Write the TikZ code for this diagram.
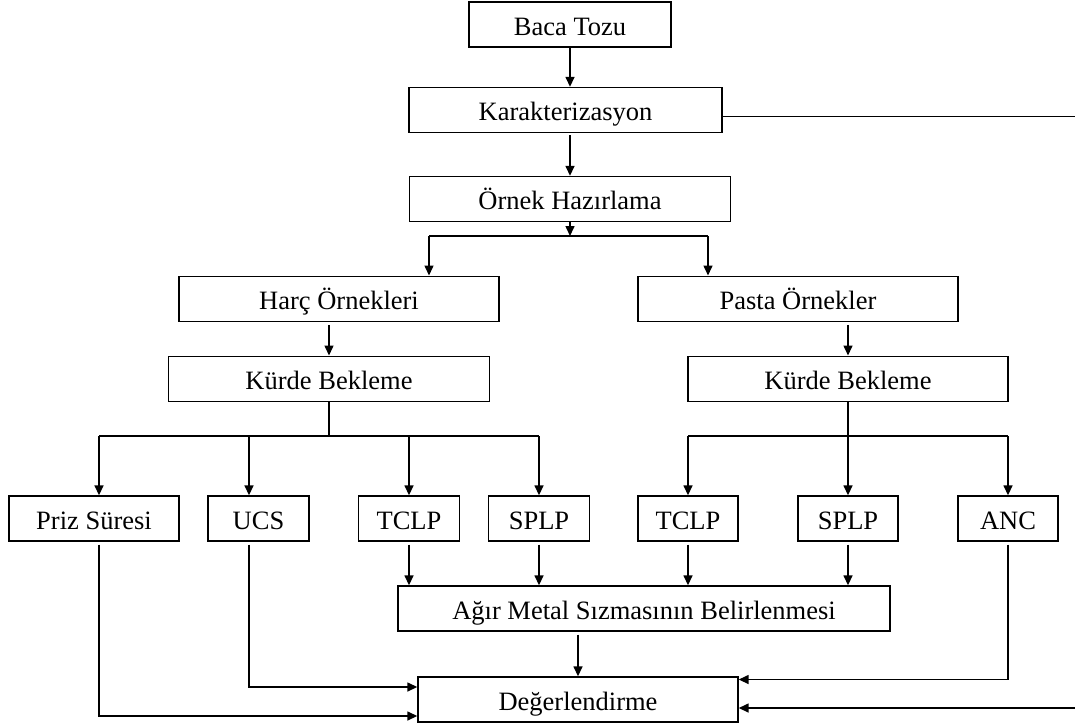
\documentclass[tikz,border=0pt]{standalone}
\usepackage{fontspec}
\setmainfont{Liberation Serif}
\usetikzlibrary{arrows.meta,calc}
\begin{document}
\begin{tikzpicture}[x=1pt,y=-1pt,
  box/.style={draw, line width=1.4pt, minimum height=45pt, inner sep=0pt,
              text height=22pt, text depth=0.5pt,
              anchor=center, font=\fontsize{26.5}{30}\selectfont},
  link/.style={line width=1.5pt},
  arr/.style={link, -{Triangle[length=10pt,width=9pt]}}]
\useasboundingbox (0,0) rectangle (1075,724);

% process boxes
\node[box, minimum width=202pt] (baca)   at (570,24.5)  {Baca Tozu};
\node[box, minimum width=313pt] (karak)  at (565.5,110) {Karakterizasyon};
\node[box, minimum width=321pt] (ornek)  at (570,199)   {Örnek Hazırlama};
\node[box, minimum width=320pt] (harc)   at (339,298.7) {Harç Örnekleri};
\node[box, minimum width=320pt] (pasta)  at (798,298.7) {Pasta Örnekler};
\node[box, minimum width=321pt] (kurdeL) at (329,378.7) {Kürde Bekleme};
\node[box, minimum width=320pt] (kurdeR) at (848,378.7) {Kürde Bekleme};
\node[box, minimum width=170pt] (priz)   at (94,518.5)  {Priz Süresi};
\node[box, minimum width=101pt] (ucs)    at (258.5,518.5) {UCS};
\node[box, minimum width=101pt] (tclpA)  at (409,518.5) {TCLP};
\node[box, minimum width=101pt] (splpA)  at (539,518.5) {SPLP};
\node[box, minimum width=100pt] (tclpB)  at (688,518.5) {TCLP};
\node[box, minimum width=100pt] (splpB)  at (848,518.5) {SPLP};
\node[box, minimum width=100pt] (anc)    at (1008,518.5) {ANC};
\node[box, minimum width=492pt] (agir)   at (644,608.5) {Ağır Metal Sızmasının Belirlenmesi};
\node[box, minimum width=320pt] (deg)    at (578,699.5) {Değerlendirme};

% branch points
\coordinate (splitO) at (570,236);
\coordinate (harcIn) at (429,236);
\coordinate (pastaIn) at (708,236);
\coordinate (splitL) at (329,436);
\coordinate (splitR) at (848,436);
\coordinate (kout) at (1076,116.7);
\coordinate (kin)  at (1076,708);

% top chain
\draw[arr] (baca.south) -- (baca.south |- karak.north);
\draw[arr, shorten <=2pt] (ornek.north |- karak.south) -- (ornek.north);
\draw[arr] (ornek.south) -- (ornek.south |- splitO);
\draw[link] (harcIn) -- (pastaIn);
\draw[arr] (harcIn) -- (harcIn |- harc.north);
\draw[arr] (pastaIn) -- (pastaIn |- pasta.north);
\draw[arr, shorten <=3pt] (harc.south -| kurdeL.north) -- (kurdeL.north);
\draw[arr, shorten <=3pt] (pasta.south -| kurdeR.north) -- (kurdeR.north);

% left distribution
\draw[link] (kurdeL.south) -- (splitL);
\draw[link] ([xshift=5pt]priz.north |- splitL) -- (splpA.north |- splitL);
\draw[arr] ([xshift=5pt]priz.north |- splitL) -- ([xshift=5pt]priz.north);
\draw[arr] ([xshift=-9.5pt]ucs.north |- splitL) -- ([xshift=-9.5pt]ucs.north);
\draw[arr] (tclpA.north |- splitL) -- (tclpA.north);
\draw[arr] (splpA.north |- splitL) -- (splpA.north);

% right distribution
\draw[link] (kurdeR.south) -- (splitR);
\draw[link] (tclpB.north |- splitR) -- (anc.north |- splitR);
\draw[arr] (tclpB.north |- splitR) -- (tclpB.north);
\draw[arr] (splitR) -- (splpB.north);
\draw[arr] (anc.north |- splitR) -- (anc.north);

% leaching tests
\draw[arr, shorten <=3pt] (tclpA.south) -- (tclpA.south |- agir.north);
\draw[arr, shorten <=3pt] (splpA.south) -- (splpA.south |- agir.north);
\draw[arr, shorten <=3pt] (tclpB.south) -- (tclpB.south |- agir.north);
\draw[arr, shorten <=3pt] (splpB.south) -- (splpB.south |- agir.north);

% evaluation inputs
\draw[arr, shorten <=3pt] (deg.north |- agir.south) -- (deg.north);
\draw[arr, shorten <=3pt] ([xshift=5pt]priz.south) |- ([yshift=-16.5pt]deg.west);
\draw[arr, shorten <=3pt] ([xshift=-9.5pt]ucs.south) |- ([yshift=12.5pt]deg.west);
\draw[arr, shorten <=3pt] (anc.south) |- ([yshift=20pt]deg.east);
\draw[link] (karak.east |- kout) -- (kout);
\draw[arr] (kin) -- (kin -| deg.east);
\end{tikzpicture}
\end{document}
